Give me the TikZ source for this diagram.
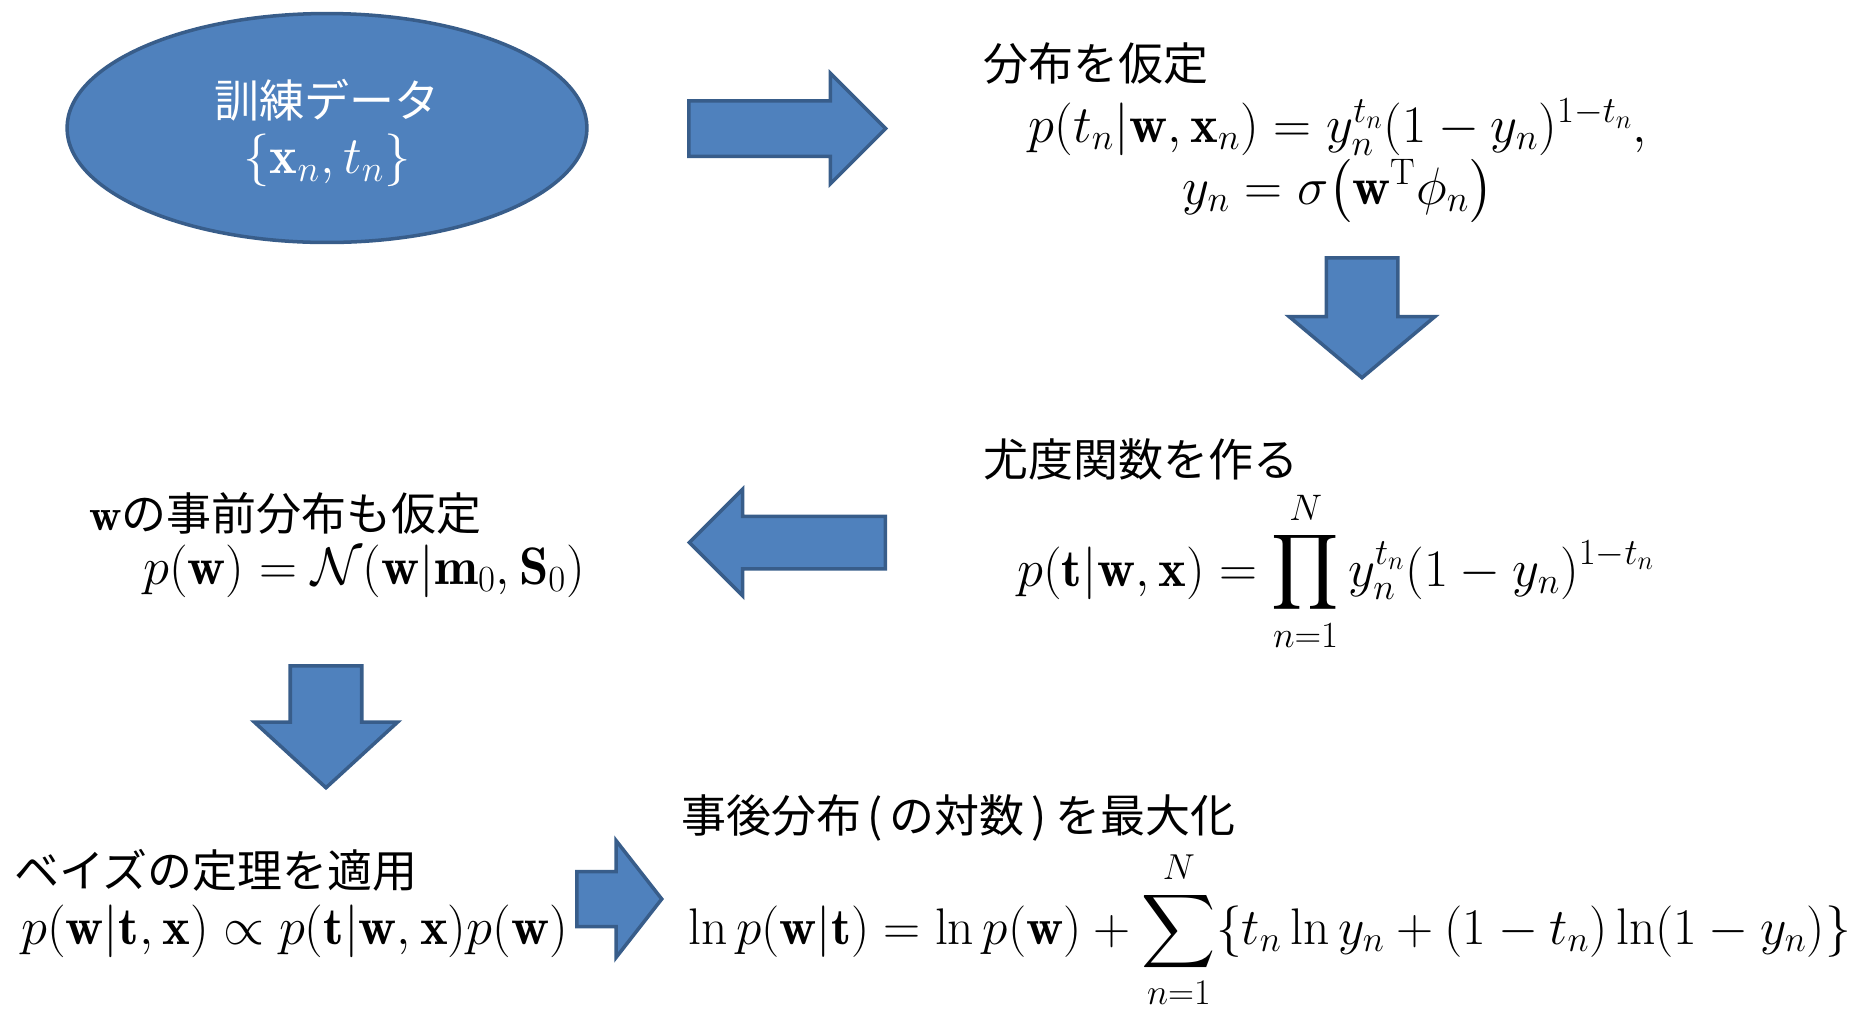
\documentclass[tikz,border=0pt]{standalone}
\usepackage{fix-cm}
\usepackage{amsmath}
\usepackage{fontspec}
\DeclareFontShape{OMX}{cmex}{m}{n}{<->cmex10}{}
\usetikzlibrary{shapes.geometric,shapes.arrows}
\newfontfamily\jpfont{Noto Sans CJK JP}
\newcommand{\jpsize}{\jpfont\fontsize{25.6}{30}\selectfont}
\newcommand{\mathsize}{\fontsize{30}{36}\selectfont}
\definecolor{boxblue}{RGB}{79,129,189}
\definecolor{lineblue}{RGB}{56,93,138}

\begin{document}
\begin{tikzpicture}[
        x=0.02cm, y=-0.02cm,
        data/.style={ellipse, draw=lineblue, line width=2pt, fill=boxblue, minimum width=10.4cm, minimum height=4.58cm, align=center, text=white, font=\mathsize},
        blockarrow/.style={single arrow, draw=lineblue, line width=2pt, fill=boxblue, inner xsep=0pt, single arrow head indent=0pt, anchor=tail},
        title/.style={anchor=west, inner sep=0pt, font=\jpsize},
        formula/.style={anchor=base, inner sep=0pt, font=\mathsize}
    ]
    \useasboundingbox (0,0) rectangle (1851,1009);

    % Training data
    \node[data] (data) at (327,128) {\rule{0pt}{27pt}{\jpsize 訓練データ}\\[-4pt] $\{\mathbf{x}_n,t_n\}$};

    % Step 1: assume a distribution
    \node[title] (assume) at (983,63) {分布を仮定};
    \node[formula] (assume_eq1) at (1338,142) {$p(t_n|\mathbf{w},\mathbf{x}_n)=y_n^{t_n}(1-y_n)^{1-t_n},$};
    \node[formula] (assume_eq2) at (1338,204) {$y_n=\sigma\bigl(\mathbf{w}^{\mathrm{T}}\phi_n\bigr)$};

    % Step 2: likelihood
    \node[title] (lik) at (983,459) {尤度関数を作る};
    \node[formula] (lik_eq) at (1336,586) {$\displaystyle p(\mathbf{t}|\mathbf{w},\mathbf{x})=\prod_{n=1}^{N}y_n^{t_n}(1-y_n)^{1-t_n}$};

    % Step 3: prior on w
    \node[title] (prior) at (89,513) {$\mathbf{w}$の事前分布も仮定};
    \node[formula, anchor=base west] (prior_eq) at (143,584) {$p(\mathbf{w})=\mathcal{N}(\mathbf{w}|\mathbf{m}_0,\mathbf{S}_0)$};

    % Step 4: Bayes
    \node[title] (bayes) at (14,870) {ベイズの定理を適用};
    \node[formula, anchor=base west] (bayes_eq) at (21,944) {$p(\mathbf{w}|\mathbf{t},\mathbf{x})\propto p(\mathbf{t}|\mathbf{w},\mathbf{x})p(\mathbf{w})$};

    % Step 5: maximise the posterior
    \node[title] (post) at (681,818) {事後分布{\kern0.15em(\kern0.15em}の対数{\kern0.15em)\kern0.2em}を最大化};
    \node[formula, anchor=base west, font=\fontsize{29.3}{35}\selectfont] (post_eq) at (688,944) {$\displaystyle \ln p(\mathbf{w}|\mathbf{t})=\ln p(\mathbf{w})+\sum_{n=1}^{N}\{t_n\ln y_n+(1-t_n)\ln(1-y_n)\}$};

    % Block arrows
    \node[blockarrow, minimum height=3.94cm, inner ysep=0.52cm, single arrow head extend=0.55cm, single arrow tip angle=90] (arr_assume) at (687,128.5) {};
    \node[blockarrow, minimum height=2.4cm, inner ysep=0.68cm, single arrow head extend=0.74cm, single arrow tip angle=100, rotate=-90] (arr_lik) at (1362,256) {};
    \node[blockarrow, minimum height=3.92cm, inner ysep=0.49cm, single arrow head extend=0.54cm, single arrow tip angle=90, rotate=180] (arr_prior) at (887,542.5) {};
    \node[blockarrow, minimum height=2.44cm, inner ysep=0.68cm, single arrow head extend=0.72cm, single arrow tip angle=95, rotate=-90] (arr_bayes) at (326,664) {};
    \node[blockarrow, minimum height=1.7cm, inner ysep=0.515cm, single arrow head extend=0.62cm, single arrow tip angle=104] (arr_post) at (575,899) {};

\end{tikzpicture}
\end{document}
